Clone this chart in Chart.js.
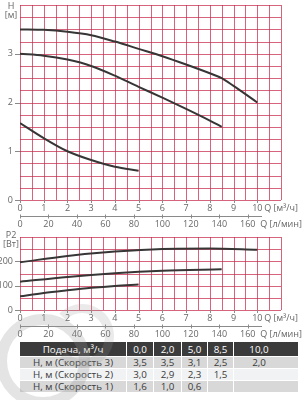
<!DOCTYPE html>
<html lang="ru">
<head>
  <meta charset="UTF-8">
  <title>Напорно-расходная характеристика</title>
  <style>
    body {
      margin: 0;
      background: #fff;
      font-family: "Open Sans", Arial, sans-serif;
    }
    #wrap {
      position: relative;
      width: 303px;
      height: 400px;
      overflow: hidden;
    }
    #headChart { position: absolute; left: 0; top: 0; }
    #powerChart { position: absolute; left: 0; top: 230px; }
    table {
      position: absolute;
      left: 19px;
      top: 341px;
      width: 279px;
      table-layout: fixed;
      border-collapse: collapse;
      font-size: 9.8px;
      color: #3a3a3a;
    }
    td, th {
      border: 1.5px solid #fff;
      height: 11px;
      padding: 0;
      text-align: center;
      font-weight: normal;
      white-space: nowrap;
      line-height: 11px;
    }
    th { background: #3b3b3b; color: #fff; height: 14px; }
    td.last, th.last { padding-right: 14px; }
    tr.g td { background: #d8d8d8; }
    tr.w td { background: #f1f2f4; }
    .mark {
      position: absolute;
      border-radius: 50%;
      pointer-events: none;
    }
  </style>
</head>
<body>
  <div id="wrap">
    <canvas id="headChart" width="303" height="230"></canvas>
    <canvas id="powerChart" width="303" height="110"></canvas>
    <table>
      <colgroup>
        <col style="width:107px"><col style="width:27px"><col style="width:28px">
        <col style="width:26px"><col style="width:26px"><col style="width:65px">
      </colgroup>
      <thead>
        <tr id="headRow"></tr>
      </thead>
      <tbody id="tableBody"></tbody>
    </table>
    <div class="mark" style="left:-4px;top:314px;width:72px;height:72px;border:11px solid rgba(150,150,150,0.26);"></div>
    <div class="mark" style="left:50px;top:304px;width:46px;height:46px;border:9px solid rgba(150,150,150,0.2);border-left-color:transparent;"></div>
  </div>

  <script src="https://cdn.jsdelivr.net/npm/chart.js"></script>
  <script>
    // Напор H, м
    const q3 = [0, 1, 2, 3, 4, 5, 6, 7, 8, 8.5, 9, 10];
    const h3 = [3.5, 3.49, 3.45, 3.38, 3.25, 3.1, 2.95, 2.78, 2.6, 2.5, 2.34, 2.0];
    const q2 = [0, 1, 2, 3, 4, 5, 6, 7, 8, 8.5];
    const h2 = [3.0, 2.96, 2.88, 2.75, 2.55, 2.32, 2.1, 1.87, 1.63, 1.5];
    const q1 = [0, 1, 2, 3, 4, 5];
    const h1 = [1.58, 1.27, 1.0, 0.82, 0.68, 0.6];

    // Мощность P2, Вт
    const pq3 = [0, 2, 4, 6, 8, 10];
    const p3 = [196, 222, 240, 251, 253, 248];
    const pq2 = [0, 2, 4, 6, 8.5];
    const p2 = [116, 136, 151, 161, 167];
    const pq1 = [0, 1, 2, 3, 4, 5];
    const p1 = [56, 70, 81, 91, 99, 105];

    // таблица
    const flowCols = ['0,0', '2,0', '5,0', '8,5', '10,0'];
    const tableRows = [
      ['Н, м (Скорость 3)', '3,5', '3,5', '3,1', '2,5', '2,0'],
      ['Н, м (Скорость 2)', '3,0', '2,9', '2,3', '1,5', ''],
      ['Н, м (Скорость 1)', '1,6', '1,0', '0,6', '', '']
    ];

    const qMax = 11;                 // м³/ч
    const lpmMax = qMax * 1000 / 60; // л/мин
    const lpmTicks = [0, 20, 40, 60, 80, 100, 120, 140, 160];
    const lpmLineEnd = 170;
    const qGridStep = 0.5;

    const gridColor = 'rgba(200, 40, 75, 0.72)';
    const tickGray = '#8a8a8a';
    const labelColor = '#666';
    const font = { family: '"Open Sans", Arial, sans-serif', size: 9 };
    const clear = 'rgba(0,0,0,0)';

    function pairs(xs, ys) {
      return xs.map((x, i) => ({ x: x, y: ys[i] }));
    }

    function curve(xs, ys) {
      return {
        data: pairs(xs, ys),
        borderColor: '#363636',
        borderWidth: 2,
        pointRadius: 0,
        fill: false,
        cubicInterpolationMode: 'monotone'
      };
    }

    function line(ctx, x1, y1, x2, y2) {
      ctx.beginPath();
      ctx.moveTo(x1, y1);
      ctx.lineTo(x2, y2);
      ctx.stroke();
    }

    function steps(min, max, step) {
      const out = [];
      const n = Math.round((max - min) / step);
      for (let i = 0; i <= n; i++) out.push(min + i * step);
      return out;
    }

    // сетка «миллиметровки», засечки и ось л/мин - по шкалам графика
    const gridPaper = {
      id: 'gridPaper',
      beforeDatasetsDraw(chart, args, opts) {
        const ctx = chart.ctx;
        const a = chart.chartArea;
        const x = chart.scales.x, y = chart.scales.y, x2 = chart.scales.x2;
        const snap = v => Math.round(v) + 0.5;
        ctx.save();
        ctx.lineWidth = 1;
        ctx.strokeStyle = gridColor;
        steps(0, qMax, qGridStep).forEach(v => {
          const px = snap(x.getPixelForValue(v));
          line(ctx, px, a.top, px, a.bottom);
        });
        steps(0, opts.yMax, opts.yStep).forEach(v => {
          const py = snap(y.getPixelForValue(v));
          line(ctx, a.left, py, a.right, py);
        });
        ctx.strokeStyle = tickGray;
        steps(0, qMax - 1, 1).forEach(v => {
          const px = snap(x.getPixelForValue(v));
          line(ctx, px, a.bottom, px, a.bottom + 3);
        });
        steps(0, opts.yMax - opts.labelStep, opts.labelStep).forEach(v => {
          const py = snap(y.getPixelForValue(v));
          line(ctx, a.left - 5, py, a.left, py);
        });
        const ly = snap(x2.top);
        line(ctx, a.left, ly, x2.getPixelForValue(lpmLineEnd), ly);
        lpmTicks.forEach(v => {
          const px = snap(x2.getPixelForValue(v));
          line(ctx, px, ly - 2, px, ly + 2);
        });
        ctx.restore();
      }
    };

    // подписи осей (H [м], P2 [Вт])
    const axisTitle = {
      id: 'axisTitle',
      afterDraw(chart, args, opts) {
        const ctx = chart.ctx;
        ctx.save();
        ctx.font = '9px "Open Sans", Arial, sans-serif';
        ctx.fillStyle = labelColor;
        ctx.textAlign = 'center';
        ctx.textBaseline = 'middle';
        const x = chart.chartArea.left - 9;
        opts.lines.forEach((t, i) => {
          ctx.fillText(t, x, chart.chartArea.top + opts.dy + i * 9);
        });
        ctx.restore();
      }
    };

    function noPad(s) {
      s.paddingLeft = 0;
      s.paddingRight = 0;
      s.paddingTop = 0;
      s.paddingBottom = 0;
    }

    function buildChart(id, datasets, yMax, yStep, yLabelStep, title, titleDy, topPad) {
      return new Chart(document.getElementById(id), {
        type: 'line',
        data: { datasets: datasets },
        plugins: [gridPaper, axisTitle],
        options: {
          responsive: false,
          animation: false,
          layout: { padding: { top: topPad, right: 22, left: 0, bottom: 0 } },
          plugins: {
            legend: { display: false },
            tooltip: { enabled: false },
            gridPaper: { yMax: yMax, yStep: yStep, labelStep: yLabelStep },
            axisTitle: { lines: title, dy: titleDy }
          },
          scales: {
            x: {
              type: 'linear',
              position: 'bottom',
              weight: 0,
              min: 0,
              max: qMax,
              afterBuildTicks: s => {
                s.ticks = steps(0, qMax, 1).map(v => ({ value: v }));
              },
              ticks: {
                autoSkip: false,
                maxRotation: 0,
                padding: 0,
                color: labelColor,
                font: font,
                callback: v => v === qMax ? 'Q [м³/ч]' : v
              },
              grid: { color: clear, tickColor: clear, tickLength: 3 },
              border: { display: false },
              afterFit: s => { s.height = 16; noPad(s); }
            },
            x2: {
              type: 'linear',
              position: 'bottom',
              weight: 1,
              min: 0,
              max: lpmMax,
              afterBuildTicks: s => {
                s.ticks = lpmTicks.concat([lpmMax]).map(v => ({ value: v }));
              },
              ticks: {
                autoSkip: false,
                maxRotation: 0,
                padding: 0,
                color: labelColor,
                font: font,
                callback: v => v > lpmLineEnd ? 'Q [л/мин]' : v
              },
              grid: { drawOnChartArea: false, color: clear, tickColor: clear, tickLength: 3 },
              border: { display: false },
              afterFit: s => { s.height = 14; noPad(s); }
            },
            y: {
              type: 'linear',
              min: 0,
              max: yMax,
              afterBuildTicks: s => {
                s.ticks = steps(0, yMax - yLabelStep, yLabelStep).map(v => ({ value: v }));
              },
              ticks: {
                autoSkip: false,
                padding: 2,
                color: labelColor,
                font: font
              },
              grid: { color: clear, tickColor: clear, tickLength: 5 },
              border: { display: false },
              afterFit: s => { s.width = 20; noPad(s); }
            }
          }
        }
      });
    }

    buildChart('headChart', [curve(q3, h3), curve(q2, h2), curve(q1, h1)],
      4, 0.25, 1, ['H', '[м]'], 1, 5);
    buildChart('powerChart', [curve(pq3, p3), curve(pq2, p2), curve(pq1, p1)],
      300, 50, 100, ['P2', '[Вт]'], -2, 7);

    // заполнение таблицы
    const headRow = document.getElementById('headRow');
    headRow.innerHTML = '<th>Подача, м³/ч</th>' +
      flowCols.map((c, i) => '<th' + (i === flowCols.length - 1 ? ' class="last"' : '') + '>' + c + '</th>').join('');
    const body = document.getElementById('tableBody');
    tableRows.forEach((r, i) => {
      const tr = document.createElement('tr');
      tr.className = i === 1 ? 'w' : 'g';
      tr.innerHTML = r.map((c, j) => '<td' + (j === r.length - 1 ? ' class="last"' : '') + '>' + c + '</td>').join('');
      body.appendChild(tr);
    });
  </script>
</body>
</html>
